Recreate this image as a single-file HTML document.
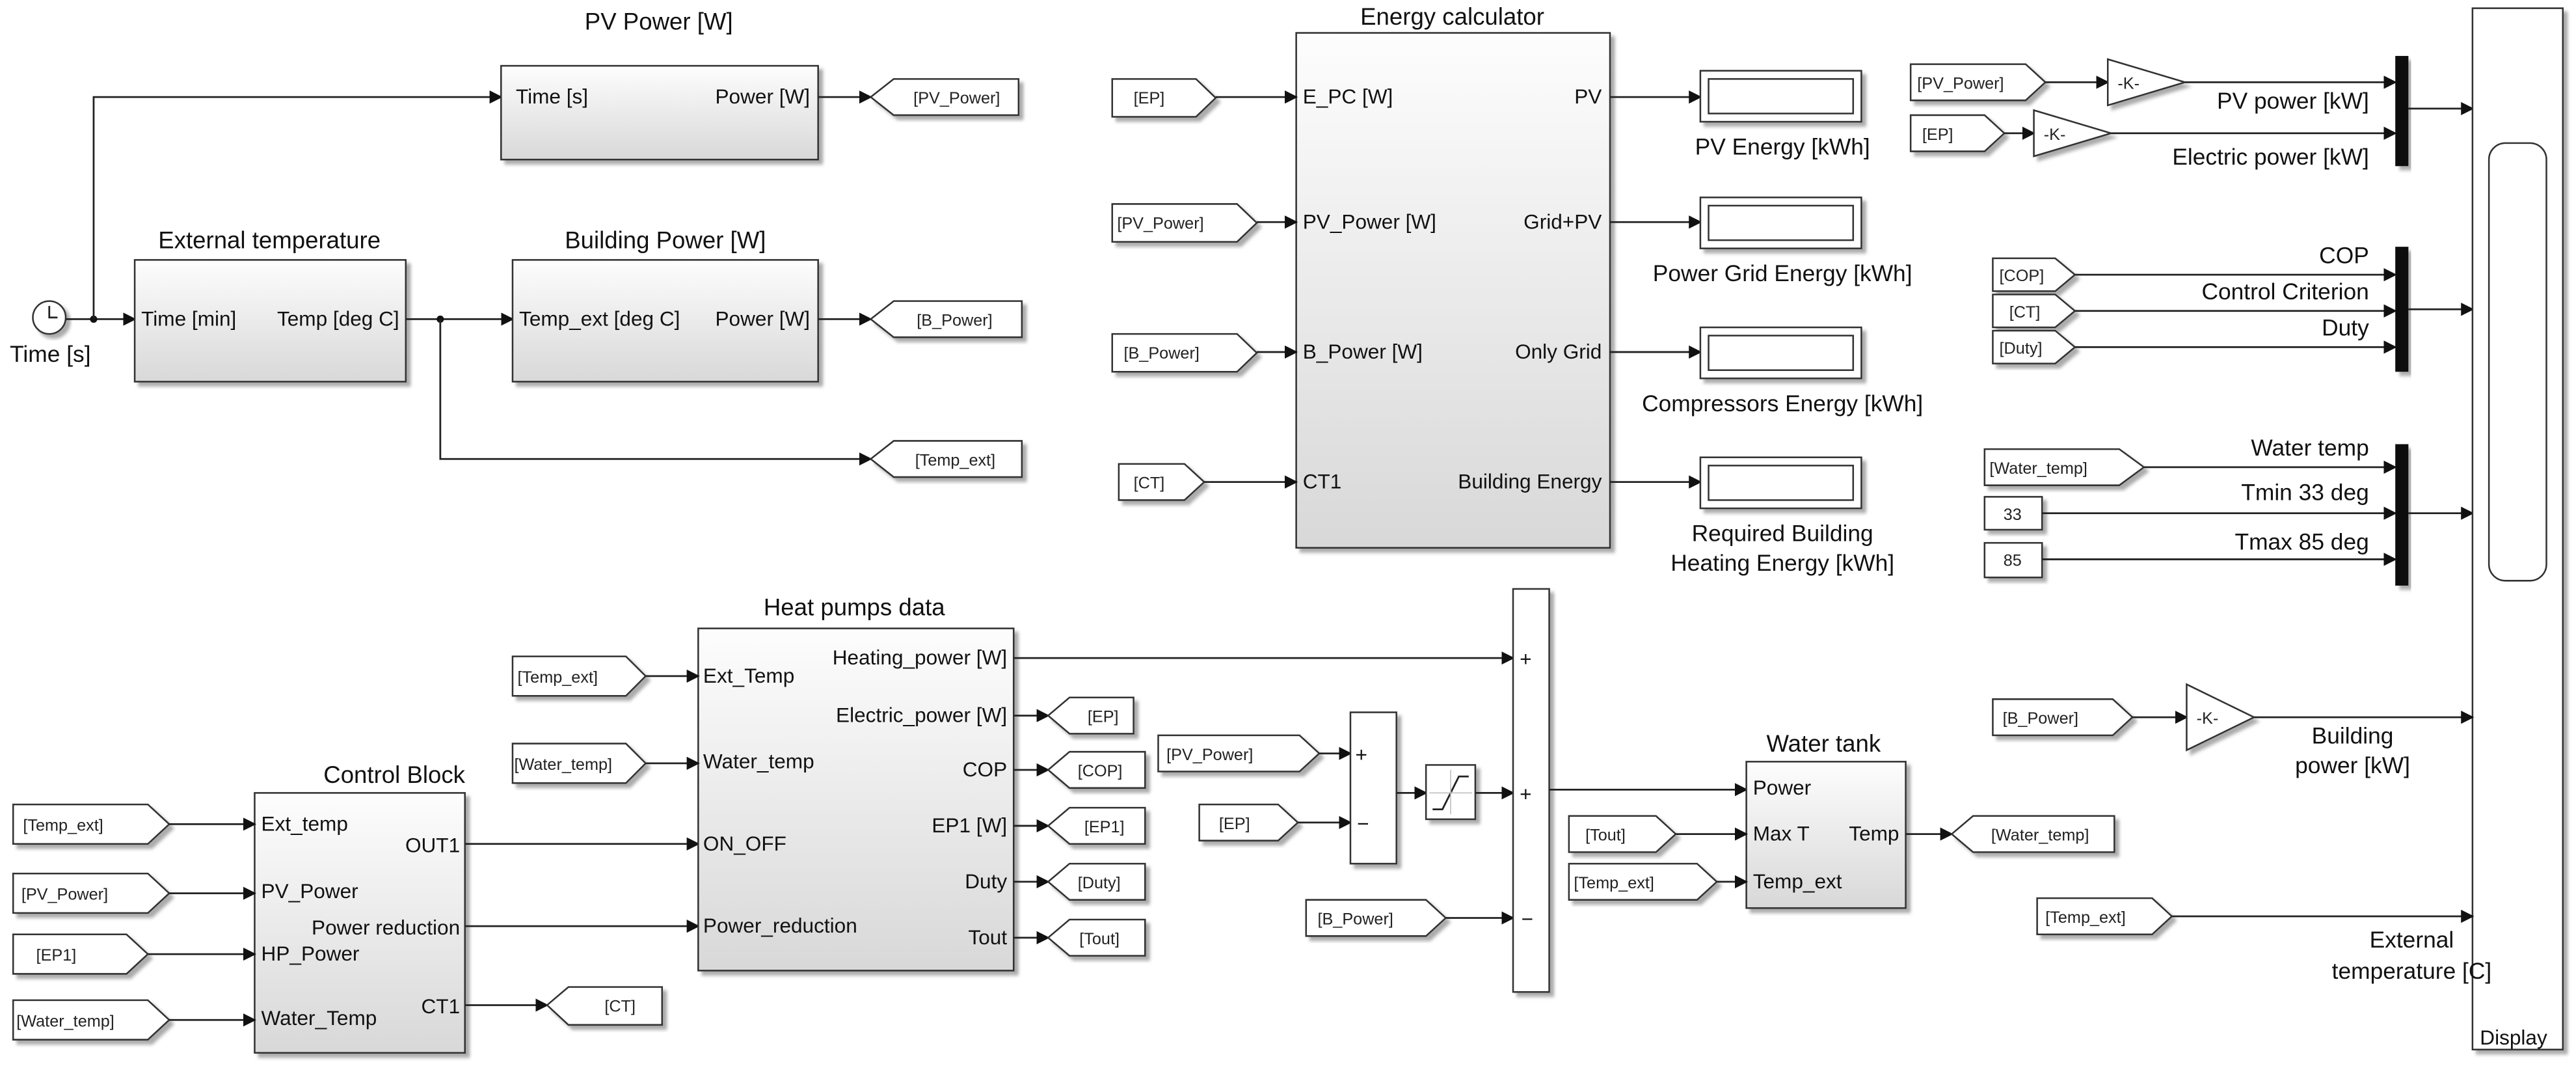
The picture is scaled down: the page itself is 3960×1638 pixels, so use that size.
<!DOCTYPE html>
<html><head><meta charset="utf-8"><style>
html,body{margin:0;padding:0;background:#fff;}
svg{display:block;}
text{font-family:"Liberation Sans",sans-serif;fill:#111;}
.p{font-size:12.5px;}
.t{font-size:14.5px;}
.g{font-size:10px;fill:#222;}
.l{font-size:14px;}
.ln{fill:none;stroke:#222;stroke-width:1.1;}
.a{fill:none;stroke:#222;stroke-width:1.1;marker-end:url(#ar);}
.tag{fill:#fff;stroke:#333;stroke-width:1;filter:url(#sh);}
.blk{fill:url(#gr);stroke:#333;stroke-width:1;filter:url(#sh);}
</style></head><body>
<svg width="3960" height="1638" viewBox="0 0 1568 648" preserveAspectRatio="none" xmlns="http://www.w3.org/2000/svg">
<defs>
<marker id="ar" markerWidth="8" markerHeight="8" refX="7" refY="4" orient="auto" markerUnits="userSpaceOnUse"><path d="M0,0 L8,4 L0,8 z" fill="#111"/></marker>
<linearGradient id="gr" x1="0" y1="0" x2="0" y2="1"><stop offset="0" stop-color="#fdfdfd"/><stop offset="1" stop-color="#d8d8d8"/></linearGradient>
<filter id="sh" x="-10%" y="-10%" width="130%" height="130%"><feDropShadow dx="2.5" dy="2.5" stdDeviation="1" flood-color="#888" flood-opacity="0.7"/></filter>
</defs>

<!-- Top left -->
<circle cx="30" cy="193" r="10" fill="#fff" stroke="#333" filter="url(#sh)"/>
<path d="M30,186 V193 H35" class="ln"/>
<text x="6" y="220" class="l">Time [s]</text>
<path d="M40,194 H82" class="a"/>
<circle cx="57" cy="194" r="2.2" fill="#111"/>
<path d="M57,194 V59 H305" class="a"/>

<rect x="305" y="40" width="193" height="57" class="blk"/>
<text x="401" y="18" class="t" text-anchor="middle">PV Power [W]</text>
<text x="314" y="63" class="p">Time [s]</text>
<text x="493" y="63" class="p" text-anchor="end">Power [W]</text>
<path d="M498,59 H530" class="a"/>
<polygon points="530,59 544,48 620,48 620,70 544,70" class="tag"/><text x="556" y="63" class="g">[PV_Power]</text>

<rect x="82" y="158" width="165" height="74" class="blk"/>
<text x="164" y="151" class="t" text-anchor="middle">External temperature</text>
<text x="86" y="198" class="p">Time [min]</text>
<text x="243" y="198" class="p" text-anchor="end">Temp [deg C]</text>
<path d="M247,194 H312" class="a"/>
<circle cx="268" cy="194" r="2.2" fill="#111"/>
<path d="M268,194 V279 H530" class="a"/>

<rect x="312" y="158" width="186" height="74" class="blk"/>
<text x="405" y="151" class="t" text-anchor="middle">Building Power [W]</text>
<text x="316" y="198" class="p">Temp_ext [deg C]</text>
<text x="493" y="198" class="p" text-anchor="end">Power [W]</text>
<path d="M498,194 H530" class="a"/>
<polygon points="530,194 544,183 622,183 622,205 544,205" class="tag"/><text x="558" y="198" class="g">[B_Power]</text>
<polygon points="530,279 544,268 622,268 622,290 544,290" class="tag"/><text x="557" y="283" class="g">[Temp_ext]</text>

<!-- Energy calculator -->
<rect x="789" y="20" width="191" height="313" class="blk"/>
<text x="884" y="15" class="t" text-anchor="middle">Energy calculator</text>
<polygon points="677,48 728,48 740,59.5 728,71 677,71" class="tag"/><text x="690" y="63" class="g">[EP]</text>
<path d="M740,59 H789" class="a"/>
<polygon points="677,124 753,124 765,135.5 753,147 677,147" class="tag"/><text x="680" y="139" class="g">[PV_Power]</text>
<path d="M765,135 H789" class="a"/>
<polygon points="677,203 753,203 765,214.5 753,226 677,226" class="tag"/><text x="684" y="218" class="g">[B_Power]</text>
<path d="M765,214 H789" class="a"/>
<polygon points="681,282 721,282 733,293 721,304 681,304" class="tag"/><text x="690" y="297" class="g">[CT]</text>
<path d="M733,293 H789" class="a"/>
<text x="793" y="63" class="p">E_PC [W]</text>
<text x="793" y="139" class="p">PV_Power [W]</text>
<text x="793" y="218" class="p">B_Power [W]</text>
<text x="793" y="297" class="p">CT1</text>
<text x="975" y="63" class="p" text-anchor="end">PV</text>
<text x="975" y="139" class="p" text-anchor="end">Grid+PV</text>
<text x="975" y="218" class="p" text-anchor="end">Only Grid</text>
<text x="975" y="297" class="p" text-anchor="end">Building Energy</text>
<path d="M980,59 H1035" class="a"/><path d="M980,135 H1035" class="a"/><path d="M980,214 H1035" class="a"/><path d="M980,293 H1035" class="a"/>
<g fill="#fff" stroke="#333">
<rect x="1035" y="43" width="98" height="31" filter="url(#sh)"/><rect x="1040" y="48" width="88" height="21"/>
<rect x="1035" y="120" width="98" height="31" filter="url(#sh)"/><rect x="1040" y="125" width="88" height="21"/>
<rect x="1035" y="199" width="98" height="31" filter="url(#sh)"/><rect x="1040" y="204" width="88" height="21"/>
<rect x="1035" y="278" width="98" height="31" filter="url(#sh)"/><rect x="1040" y="283" width="88" height="21"/>
</g>
<text x="1085" y="94" class="l" text-anchor="middle">PV Energy [kWh]</text>
<text x="1085" y="171" class="l" text-anchor="middle">Power Grid Energy [kWh]</text>
<text x="1085" y="250" class="l" text-anchor="middle">Compressors Energy [kWh]</text>
<text x="1085" y="329" class="l" text-anchor="middle">Required Building</text>
<text x="1085" y="347" class="l" text-anchor="middle">Heating Energy [kWh]</text>

<!-- Right column -->
<polygon points="1163,39 1233,39 1245,50 1233,61 1163,61" class="tag"/><text x="1167" y="54" class="g">[PV_Power]</text>
<path d="M1245,50 H1283" class="a"/>
<polygon points="1283,36 1283,64 1330,50" fill="#fff" stroke="#333" filter="url(#sh)"/><text x="1289" y="54" class="g">-K-</text>
<path d="M1330,50 H1458" class="a"/>
<polygon points="1163,70 1208,70 1220,81 1208,92 1163,92" class="tag"/><text x="1170" y="85" class="g">[EP]</text>
<path d="M1220,81 H1238" class="a"/>
<polygon points="1238,67 1238,95 1285,81" fill="#fff" stroke="#333" filter="url(#sh)"/><text x="1244" y="85" class="g">-K-</text>
<path d="M1285,81 H1458" class="a"/>
<text x="1442" y="66" class="l" text-anchor="end">PV power [kW]</text>
<text x="1442" y="100" class="l" text-anchor="end">Electric power [kW]</text>
<rect x="1458" y="34" width="8" height="67" fill="#111" filter="url(#sh)"/>
<path d="M1466,66 H1505" class="a"/>

<polygon points="1213,157 1251,157 1263,167 1251,177 1213,177" class="tag"/><text x="1217" y="171" class="g">[COP]</text>
<polygon points="1213,179 1251,179 1263,189 1251,199 1213,199" class="tag"/><text x="1223" y="193" class="g">[CT]</text>
<polygon points="1213,201 1251,201 1263,211 1251,221 1213,221" class="tag"/><text x="1217" y="215" class="g">[Duty]</text>
<path d="M1263,167 H1458" class="a"/><path d="M1263,189 H1458" class="a"/><path d="M1263,211 H1458" class="a"/>
<text x="1442" y="160" class="l" text-anchor="end">COP</text>
<text x="1442" y="182" class="l" text-anchor="end">Control Criterion</text>
<text x="1442" y="204" class="l" text-anchor="end">Duty</text>
<rect x="1458" y="150" width="8" height="76" fill="#111" filter="url(#sh)"/>
<path d="M1466,188 H1505" class="a"/>

<polygon points="1208,273 1290,273 1305,284 1290,295 1208,295" class="tag"/><text x="1211" y="288" class="g">[Water_temp]</text>
<rect x="1208" y="302" width="35" height="20" fill="#fff" stroke="#333" filter="url(#sh)"/><text x="1225" y="316" class="g" text-anchor="middle">33</text>
<rect x="1208" y="330" width="35" height="21" fill="#fff" stroke="#333" filter="url(#sh)"/><text x="1225" y="344" class="g" text-anchor="middle">85</text>
<path d="M1305,284 H1458" class="a"/><path d="M1243,312 H1458" class="a"/><path d="M1243,340 H1458" class="a"/>
<text x="1442" y="277" class="l" text-anchor="end">Water temp</text>
<text x="1442" y="304" class="l" text-anchor="end">Tmin 33 deg</text>
<text x="1442" y="334" class="l" text-anchor="end">Tmax 85 deg</text>
<rect x="1458" y="270" width="8" height="86" fill="#111" filter="url(#sh)"/>
<path d="M1466,312 H1505" class="a"/>

<rect x="1505" y="5" width="55" height="633" fill="#fff" stroke="#333" filter="url(#sh)"/>
<rect x="1515" y="87" width="35" height="266" rx="10" fill="#fff" stroke="#333"/>
<text x="1530" y="635" class="p" text-anchor="middle">Display</text>

<polygon points="1213,425 1286,425 1298,436 1286,447 1213,447" class="tag"/><text x="1219" y="440" class="g">[B_Power]</text>
<path d="M1298,436 H1331" class="a"/>
<polygon points="1331,416 1331,456 1372,436" fill="#fff" stroke="#333" filter="url(#sh)"/><text x="1337" y="440" class="g">-K-</text>
<path d="M1372,436 H1505" class="a"/>
<text x="1432" y="452" class="l" text-anchor="middle">Building</text>
<text x="1432" y="470" class="l" text-anchor="middle">power [kW]</text>
<polygon points="1240,546 1310,546 1322,557 1310,568 1240,568" class="tag"/><text x="1245" y="561" class="g">[Temp_ext]</text>
<path d="M1322,557 H1505" class="a"/>
<text x="1468" y="576" class="l" text-anchor="middle">External</text>
<text x="1468" y="595" class="l" text-anchor="middle">temperature [C]</text>

<!-- Control block -->
<rect x="155" y="482" width="128" height="158" class="blk"/>
<text x="240" y="476" class="t" text-anchor="middle">Control Block</text>
<polygon points="8,489 90,489 103,501 90,513 8,513" class="tag"/><text x="14" y="505" class="g">[Temp_ext]</text>
<polygon points="8,531 90,531 103,543 90,555 8,555" class="tag"/><text x="13" y="547" class="g">[PV_Power]</text>
<polygon points="8,568 77,568 90,580 77,592 8,592" class="tag"/><text x="22" y="584" class="g">[EP1]</text>
<polygon points="8,608 90,608 103,620 90,632 8,632" class="tag"/><text x="10" y="624" class="g">[Water_temp]</text>
<path d="M103,501 H155" class="a"/><path d="M103,543 H155" class="a"/><path d="M90,580 H155" class="a"/><path d="M103,620 H155" class="a"/>
<text x="159" y="505" class="p">Ext_temp</text>
<text x="159" y="546" class="p">PV_Power</text>
<text x="159" y="584" class="p">HP_Power</text>
<text x="159" y="623" class="p">Water_Temp</text>
<text x="280" y="518" class="p" text-anchor="end">OUT1</text>
<text x="280" y="568" class="p" text-anchor="end">Power reduction</text>
<text x="280" y="616" class="p" text-anchor="end">CT1</text>
<path d="M283,513 H425" class="a"/><path d="M283,563 H425" class="a"/><path d="M283,611 H333" class="a"/>
<polygon points="333,611 346,600 403,600 403,623 346,623" class="tag"/><text x="368" y="615" class="g">[CT]</text>

<!-- Heat pumps data -->
<rect x="425" y="382" width="192" height="208" class="blk"/>
<text x="520" y="374" class="t" text-anchor="middle">Heat pumps data</text>
<polygon points="312,399 381,399 393,411 381,423 312,423" class="tag"/><text x="315" y="415" class="g">[Temp_ext]</text>
<polygon points="312,452 381,452 393,464 381,476 312,476" class="tag"/><text x="313" y="468" class="g">[Water_temp]</text>
<path d="M393,411 H425" class="a"/><path d="M393,464 H425" class="a"/>
<text x="428" y="415" class="p">Ext_Temp</text>
<text x="428" y="467" class="p">Water_temp</text>
<text x="428" y="517" class="p">ON_OFF</text>
<text x="428" y="567" class="p">Power_reduction</text>
<text x="613" y="404" class="p" text-anchor="end">Heating_power [W]</text>
<text x="613" y="439" class="p" text-anchor="end">Electric_power [W]</text>
<text x="613" y="472" class="p" text-anchor="end">COP</text>
<text x="613" y="506" class="p" text-anchor="end">EP1 [W]</text>
<text x="613" y="540" class="p" text-anchor="end">Duty</text>
<text x="613" y="574" class="p" text-anchor="end">Tout</text>
<path d="M617,400 H921" class="a"/>
<path d="M617,435 H638" class="a"/><polygon points="638,435 651,424 690,424 690,446 651,446" class="tag"/><text x="662" y="439" class="g">[EP]</text>
<path d="M617,468 H638" class="a"/><polygon points="638,468 651,457 697,457 697,479 651,479" class="tag"/><text x="656" y="472" class="g">[COP]</text>
<path d="M617,502 H638" class="a"/><polygon points="638,502 651,491 697,491 697,513 651,513" class="tag"/><text x="660" y="506" class="g">[EP1]</text>
<path d="M617,536 H638" class="a"/><polygon points="638,536 651,525 697,525 697,547 651,547" class="tag"/><text x="656" y="540" class="g">[Duty]</text>
<path d="M617,570 H638" class="a"/><polygon points="638,570 651,559 697,559 697,581 651,581" class="tag"/><text x="657" y="574" class="g">[Tout]</text>

<!-- Sums -->
<polygon points="705,447 791,447 803,458 791,469 705,469" class="tag"/><text x="710" y="462" class="g">[PV_Power]</text>
<polygon points="730,489 778,489 790,500 778,511 730,511" class="tag"/><text x="742" y="504" class="g">[EP]</text>
<path d="M803,458 H822" class="a"/><path d="M790,500 H822" class="a"/>
<rect x="822" y="433" width="28" height="92" fill="#fff" stroke="#333" filter="url(#sh)"/>
<text x="825" y="463" class="p">+</text><text x="826" y="505" class="p">−</text>
<path d="M850,482 H868" class="a"/>
<rect x="868" y="465" width="30" height="33" fill="#fff" stroke="#333" filter="url(#sh)"/>
<path d="M872,492 H878 L888,472 H894" class="ln"/><path d="M883,468 V495 M870,482 H896" stroke="#bbb" stroke-width="0.6"/>
<path d="M898,482 H921" class="a"/>
<polygon points="795,547 868,547 880,558 868,569 795,569" class="tag"/><text x="802" y="562" class="g">[B_Power]</text>
<path d="M880,558 H921" class="a"/>
<rect x="921" y="358" width="22" height="245" fill="#fff" stroke="#333" filter="url(#sh)"/>
<text x="925" y="405" class="p">+</text><text x="925" y="487" class="p">+</text><text x="926" y="563" class="p">−</text>
<path d="M943,480 H1063" class="a"/>

<!-- Water tank -->
<rect x="1063" y="463" width="97" height="89" class="blk"/>
<text x="1110" y="457" class="t" text-anchor="middle">Water tank</text>
<polygon points="955,496 1008,496 1020,507 1008,518 955,518" class="tag"/><text x="965" y="511" class="g">[Tout]</text>
<polygon points="955,525 1033,525 1045,536 1033,547 955,547" class="tag"/><text x="958" y="540" class="g">[Temp_ext]</text>
<path d="M1020,507 H1063" class="a"/><path d="M1045,536 H1063" class="a"/>
<text x="1067" y="483" class="p">Power</text>
<text x="1067" y="511" class="p">Max T</text>
<text x="1067" y="540" class="p">Temp_ext</text>
<text x="1156" y="511" class="p" text-anchor="end">Temp</text>
<path d="M1160,507 H1188" class="a"/>
<polygon points="1188,507 1201,496 1287,496 1287,518 1201,518" class="tag"/><text x="1212" y="511" class="g">[Water_temp]</text>
</svg>
</body></html>
